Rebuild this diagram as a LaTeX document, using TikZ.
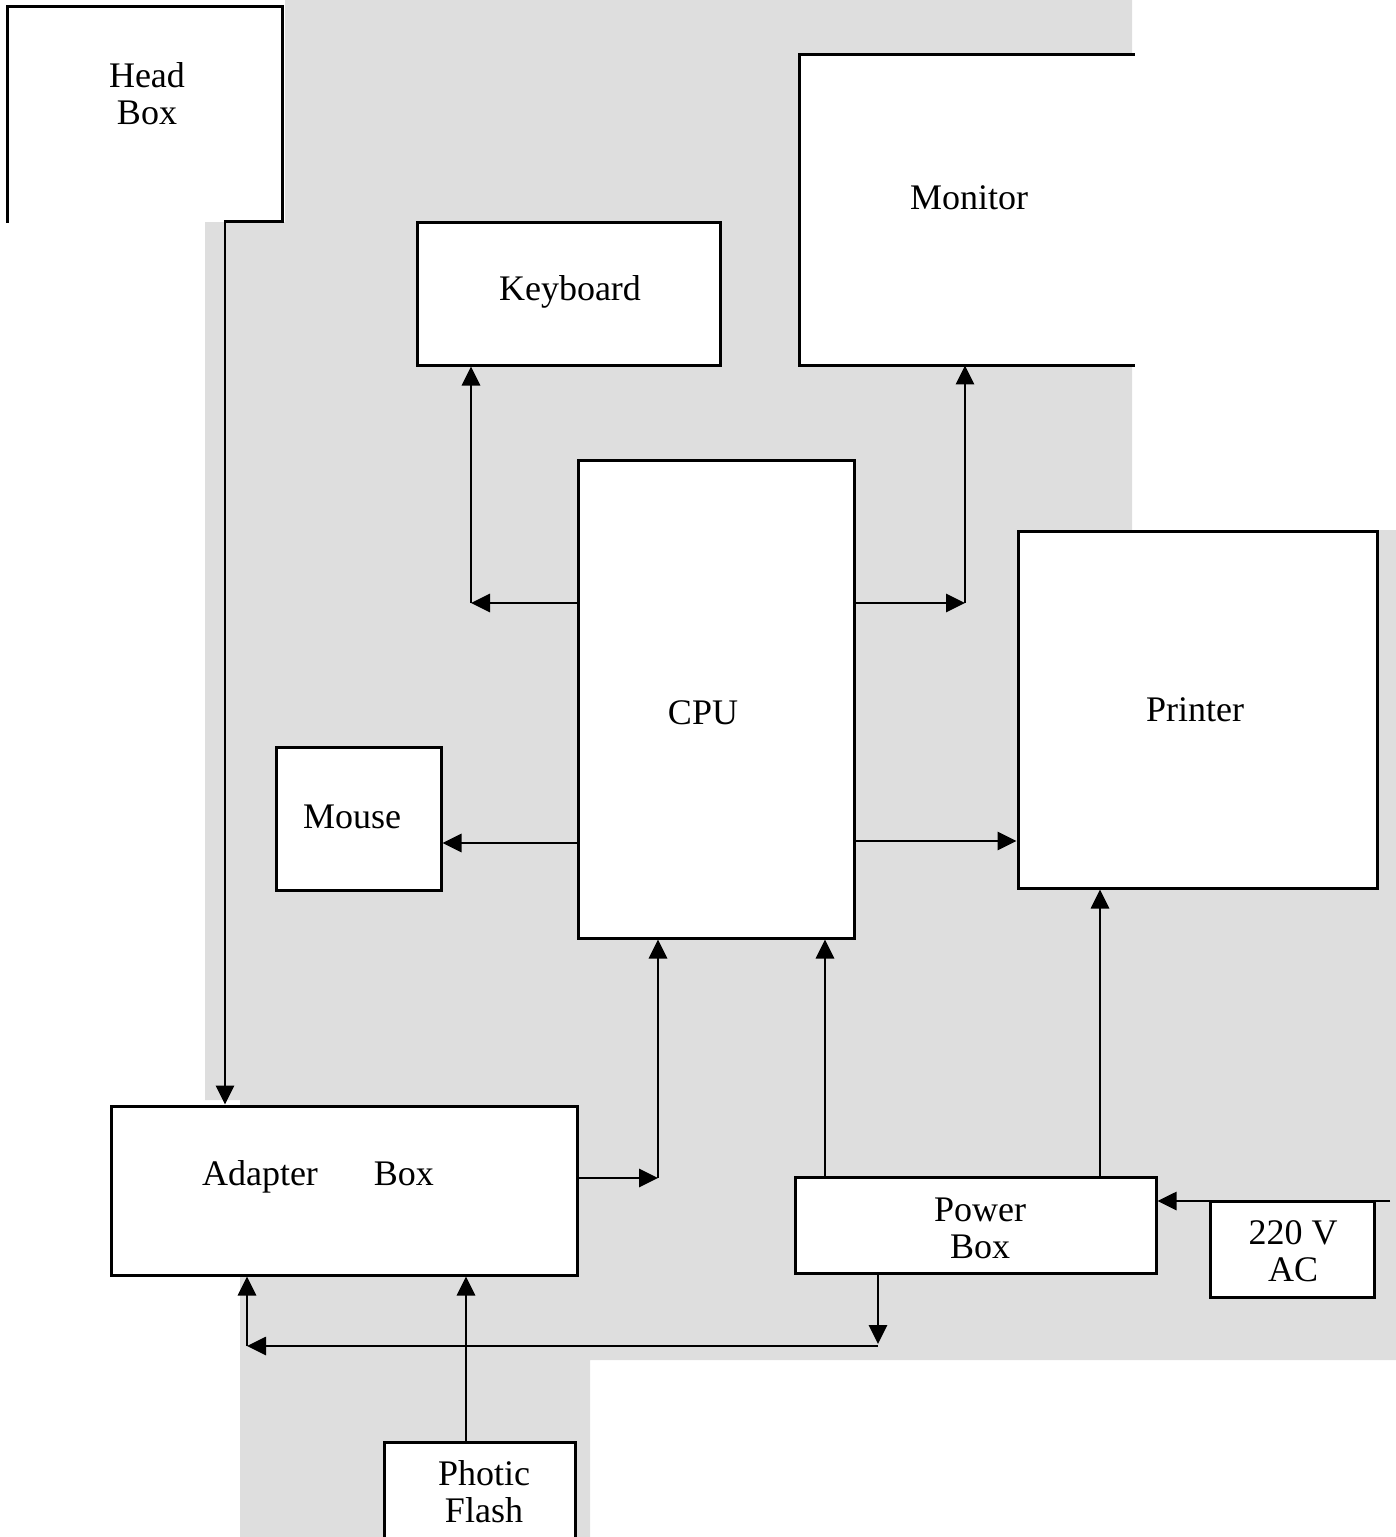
\documentclass[tikz,border=0pt]{standalone}
\usepackage{fontspec}
\setmainfont{Liberation Serif}
\usetikzlibrary{arrows.meta}
\begin{document}
\begin{tikzpicture}[x=0.5pt,y=-0.5pt,
  boxnode/.style={rectangle, draw=black, line width=1.5pt, fill=white, inner sep=0pt},
  openbox/.style={rectangle, fill=white, inner sep=0pt},
  edge/.style={line width=1.5pt, line cap=rect},
  lab/.style={font=\fontsize{18}{18.5}\selectfont, align=center, inner sep=0pt},
  arr/.style={line width=1.4pt, -{Triangle[length=9.5pt,width=9pt]}}]
\useasboundingbox (0,0) rectangle (1396,1537);
% scanned light grey background
\fill[black!13] (285,0) -- (1132,0) -- (1132,530) -- (1396,530) -- (1396,1360)
  -- (590,1360) -- (590,1537) -- (240,1537) -- (240,1100) -- (205,1100)
  -- (205,222) -- (285,222) -- cycle;
% boxes
\node[openbox, minimum width=137pt, minimum height=107pt] (hb) at (145,114) {};
\node[openbox, minimum width=167pt, minimum height=155pt] (mon) at (966.5,210) {};
\node[boxnode, minimum width=151.5pt, minimum height=71.5pt] (kb) at (568.5,293.5) {};
\node[boxnode, minimum width=138pt, minimum height=239pt] (cpu) at (716,699) {};
\node[boxnode, minimum width=179.5pt, minimum height=178.5pt] (pr) at (1197.5,709.5) {};
\node[boxnode, minimum width=82.5pt, minimum height=71.5pt] (ms) at (358.5,818.5) {};
\node[boxnode, minimum width=233pt, minimum height=84.5pt] (ad) at (344,1190.5) {};
\node[boxnode, minimum width=180.5pt, minimum height=48pt] (pw) at (975.5,1225) {};
\node[boxnode, minimum width=82pt, minimum height=48pt] (ac) at (1292,1249) {};
\node[boxnode, minimum width=95.5pt, minimum height=51.5pt] (pf) at (479.5,1493.5) {};
% open outlines of Head Box and Monitor
\draw[edge] (hb.south west) -- (hb.north west) -- (hb.north east) -- (hb.south east) -- (225,0 |- hb.south);
\draw[edge] (mon.north east) -- (mon.north west) -- (mon.south west) -- (mon.south east);
% labels
\node[lab] (hbt) at (147,94) {Head\\Box};
\node[lab] (mont) at (969,198) {Monitor};
\node[lab] (kbt) at (570,292) {Keyboard};
\node[lab] (cput) at (703,713) {CPU};
\node[lab] (prt) at (1195,710) {Printer};
\node[lab] (mst) at (352,817) {Mouse};
\node[lab] (adt) at (318,1177) {Adapter\hspace{28pt}Box};
\node[lab] (pwt) at (980,1228) {Power\\Box};
\node[lab] (act) at (1293,1251) {220 V\\AC};
\node[lab] (pft) at (484,1492) {Photic\\Flash};
% connector corner points
\coordinate (kc) at (471,603);
\coordinate (mc) at (965,603);
\coordinate (ac1) at (658,1178);
\coordinate (pd) at (878,1346);
\coordinate (pl) at (247,1346);
\coordinate (acin) at (1390,1201);
% connectors
\draw[arr] (225,0 |- hb.south) -- (225,0 |- ad.north);
\draw[arr] (cpu.west |- kc) -- (kc);
\draw[arr] (kc) -- (kc |- kb.south);
\draw[arr] (cpu.east |- mc) -- (mc);
\draw[arr] (mc) -- (mc |- mon.south);
\draw[arr] (cpu.west |- 0,843) -- (ms.east |- 0,843);
\draw[arr] (cpu.east |- 0,841) -- (pr.west |- 0,841);
\draw[arr] (ad.east |- ac1) -- (ac1);
\draw[arr] (ac1) -- (ac1 |- cpu.south);
\draw[arr] (825,0 |- pw.north) -- (825,0 |- cpu.south);
\draw[arr] (1100,0 |- pw.north) -- (1100,0 |- pr.south);
\draw[arr] (acin) -- (pw.east |- acin);
\draw[arr] (pd |- pw.south) -- ([yshift=1pt]pd);
\draw[arr] (pd) -- (pl);
\draw[arr] (pl) -- (pl |- ad.south);
\draw[arr] (466,0 |- pf.north) -- (466,0 |- ad.south);
\end{tikzpicture}
\end{document}
